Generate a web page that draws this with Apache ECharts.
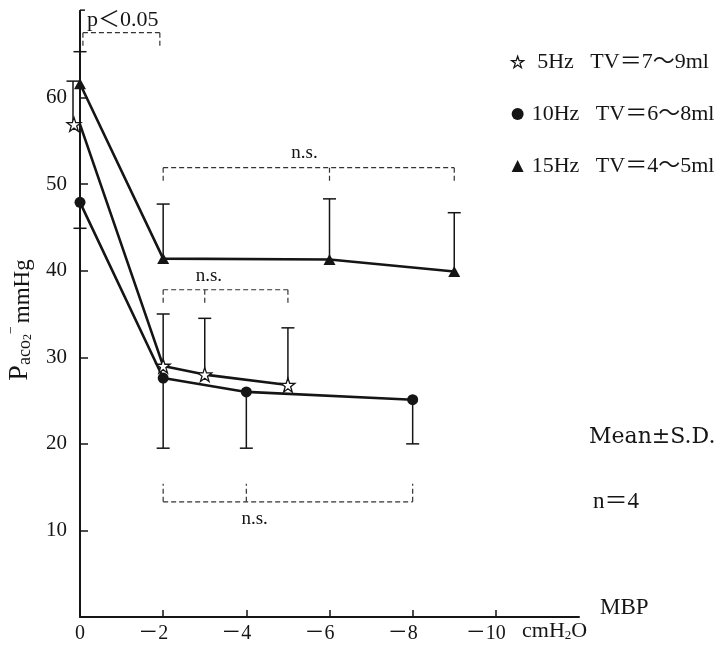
<!DOCTYPE html>
<html><head><meta charset="utf-8">
<script src="https://cdn.jsdelivr.net/npm/echarts@6/dist/echarts.min.js"></script>
<style>html,body{margin:0;padding:0;background:#fff}#c{width:722px;height:645px}</style>
</head><body><div id="c"></div>
<script>
// ---- data ----
const xStar = [0, -2, -3, -5];
const yStar = [56.9, 29.0, 28.0, 26.8];
const sdStar = [5.0, 6.0, 6.5, 6.6];      // drawn upward
const xCircle = [0, -2, -4, -8];
const yCircle = [47.9, 27.6, 26.0, 25.1];
const sdCircle = [3.0, 8.1, 6.5, 5.1];    // drawn downward
const xTri = [0, -2, -6, -9];
const yTri = [61.6, 41.4, 41.3, 39.9];
const sdTri = [3.7, 6.3, 7.0, 6.8];       // drawn upward
const seriesNames = ['\u00a05Hz\u2002 TV＝7～9ml', '10Hz\u2002 TV＝6～8ml', '15Hz\u2002 TV＝4～5ml'];
const yTicks = [10, 20, 30, 40, 50, 60];
const xTicks = [0, -2, -4, -6, -8, -10, -12];
const xTickLabels = ['0', '2', '4', '6', '8', '10'];
const xUnit = ['cmH', '2', 'O'];
// significance brackets (data units)
const brX = [[-0.07, -1.92], [-2, -6, -9], [-2, -3, -5], [-2, -4, -8]];
const brLevel = [67.5, 51.9, 37.8, 13.3];
const brTickEnd = [65.8, 50.1, 36.3, 15.4];
const brText = ['p＜0.05', 'n.s.', 'n.s.', 'n.s.'];
const brTextX = [-0.17, -5.4, -3.1, -4.2];
const brTextY = [68.9, 53.6, 39.4, 11.3];
const pMarkTop = 70.1;
const notes = ['Mean±S.D.', 'n＝4'];

const FONT = "'Liberation Serif','Noto Sans CJK JP',serif";
const FONT2 = "'DejaVu Serif','Noto Sans CJK JP',serif";
const INK = '#151515';
const starPath = 'path://M50,2 L61.8,36 L97.6,36 L68.6,57.6 L79.4,92 L50,71 L20.6,92 L31.4,57.6 L2.4,36 L38.2,36 Z';

function errSeries(xs, ys, sds, dir, dx0) {
  return {
    type: 'custom', silent: true, z: 2, clip: false,
    encode: { x: 0, y: [1, 2] },
    data: xs.map((x, i) => [x, ys[i], ys[i] + dir * sds[i]]),
    renderItem(params, api) {
      const p0 = api.coord([api.value(0), api.value(1)]);
      const p1 = api.coord([api.value(0), api.value(2)]);
      const x = p0[0] + (api.value(0) === 0 ? dx0 : 0);
      const st = { stroke: INK, lineWidth: 1.5 };
      return { type: 'group', children: [
        { type: 'line', shape: { x1: x, y1: p0[1], x2: x, y2: p1[1] }, style: st },
        { type: 'line', shape: { x1: x - 6.5, y1: p1[1], x2: x + 6.5, y2: p1[1] }, style: st }
      ]};
    }
  };
}

const bracketSeries = {
  type: 'custom', silent: true, z: 1, clip: false,
  encode: { x: 0, y: 1 },
  data: brX.map((xs, i) => [xs[0], brLevel[i]]),
  renderItem(params, api) {
    const i = params.dataIndex;
    const ds = { stroke: '#333', lineWidth: 1.2, lineDash: [5, 3] };
    const xs = brX[i].map(v => api.coord([v, 0])[0]);
    const yL = api.coord([0, brLevel[i]])[1];
    const yT = api.coord([0, brTickEnd[i]])[1];
    const ch = [{ type: 'line', shape: { x1: xs[0], y1: yL, x2: xs[xs.length - 1], y2: yL }, style: ds }];
    xs.forEach(x => ch.push({ type: 'line', shape: { x1: x, y1: yL, x2: x, y2: yT }, style: ds }));
    const tp = api.coord([brTextX[i], brTextY[i]]);
    ch.push({ type: 'text', style: { text: brText[i], x: tp[0], y: tp[1], fill: INK,
      fontSize: i === 0 ? 22 : 19, fontFamily: FONT, align: i === 0 ? 'left' : 'center', verticalAlign: 'middle' } });
    if (i === 0) {
      const x0 = api.coord([0, 0])[0];
      const yTop = api.coord([0, pMarkTop])[1];
      const ss = { stroke: INK, lineWidth: 1.5 };
      ch.push({ type: 'line', shape: { x1: x0, y1: yT, x2: x0, y2: yTop }, style: ss });
      ch.push({ type: 'line', shape: { x1: x0, y1: yTop, x2: x0 + 5, y2: yTop }, style: ss });
    }
    return { type: 'group', children: ch };
  }
};

const chart = echarts.init(document.getElementById('c'));
chart.setOption({
  animation: false,
  backgroundColor: '#fff',
  grid: { left: 80, right: 143, top: 11, bottom: 28, containLabel: false, outerBoundsMode: 'none' },
  legend: {
    orient: 'vertical', left: 511, top: 51, padding: 0, itemWidth: 12, itemHeight: 12, itemGap: 30,
    selectedMode: false,
    textStyle: { fontFamily: FONT, fontSize: 22, color: INK, padding: [0, 0, 0, 3] },
    data: [
      { name: seriesNames[0], icon: starPath, itemStyle: { color: '#fff', borderColor: INK, borderWidth: 1.3 } },
      { name: seriesNames[1], icon: 'circle', itemStyle: { color: INK, borderWidth: 0 } },
      { name: seriesNames[2], icon: 'triangle', itemStyle: { color: INK, borderWidth: 0 } }
    ]
  },
  xAxis: {
    type: 'value', min: -12, max: 0, interval: 2, inverse: true,
    axisLine: { onZero: false, lineStyle: { color: INK, width: 2 } },
    axisTick: { inside: true, length: 7, customValues: xTicks, lineStyle: { color: INK, width: 1.5 } },
    splitLine: { show: false },
    axisLabel: {
      margin: 7, color: INK, fontFamily: FONT, fontSize: 20, showMinLabel: false, showMaxLabel: true,
      formatter: v => {
        if (v === 0) return xTickLabels[0];
        if (v <= -12) return '';
        return '{t|－' + xTickLabels[-v / 2] + '}{h|－}';
      },
      rich: {
        t: { fontFamily: FONT, fontSize: 20, color: INK },
        h: { fontFamily: FONT, fontSize: 20, color: 'rgba(0,0,0,0)' }
      }
    },
    name: 'MBP', nameLocation: 'start', nameGap: 21,
    nameTextStyle: { fontFamily: FONT, fontSize: 23, color: INK, verticalAlign: 'bottom', align: 'left', padding: [0, 0, -2, 0] }
  },
  yAxis: {
    type: 'value', min: 0, max: 70, interval: 10,
    axisLine: { show: true, lineStyle: { color: INK, width: 2 } },
    axisTick: { show: true, inside: true, length: 8, customValues: yTicks, lineStyle: { color: INK, width: 1.5 } },
    axisLabel: { customValues: yTicks, margin: 13, color: INK, fontFamily: FONT, fontSize: 21 },
    splitLine: { show: false },
    name: '{P|P}{a|aco}{s|2}{m|−} {u|mmHg}',
    nameLocation: 'middle', nameRotate: 90, nameGap: 46,
    nameTextStyle: {
      color: INK, fontFamily: FONT, padding: [0, 12, 0, 0],
      rich: {
        P: { fontSize: 28, fontFamily: FONT, color: INK, verticalAlign: 'bottom', lineHeight: 30 },
        a: { fontSize: 18, fontFamily: FONT, color: INK, verticalAlign: 'bottom', lineHeight: 23 },
        s: { fontSize: 12, fontFamily: FONT, color: INK, verticalAlign: 'bottom', lineHeight: 12 },
        m: { fontSize: 14, fontFamily: FONT, color: INK, verticalAlign: 'top', lineHeight: 20 },
        u: { fontSize: 23, fontFamily: FONT, color: INK, verticalAlign: 'bottom', lineHeight: 27 }
      }
    }
  },
  graphic: [
    { type: 'text', left: 589, top: 426, style: { text: notes[0], fontFamily: FONT2, fontSize: 22, fill: INK } },
    { type: 'text', left: 593, top: 490, style: { text: notes[1], fontFamily: FONT, fontSize: 23, fill: INK } },
    { type: 'text', left: 522, top: 620, style: {
        text: '{u|' + xUnit[0] + '}{s|' + xUnit[1] + '}{u|' + xUnit[2] + '}',
        rich: {
          u: { fontFamily: FONT, fontSize: 22, fill: INK, color: INK, verticalAlign: 'bottom', lineHeight: 26 },
          s: { fontFamily: FONT, fontSize: 13, fill: INK, color: INK, verticalAlign: 'bottom', lineHeight: 13 }
        } } }
  ],
  series: [
    bracketSeries,
    errSeries(xStar, yStar, sdStar, 1, -7),
    errSeries(xCircle, yCircle, sdCircle, -1, 0),
    errSeries(xTri, yTri, sdTri, 1, 0),
    {
      type: 'line', name: seriesNames[0], z: 4,
      data: xStar.map((x, i) => i === 0 ? { value: [x, yStar[i]], symbolOffset: [-6, 0] } : [x, yStar[i]]),
      symbol: starPath, symbolSize: 14, showAllSymbol: true,
      itemStyle: { color: '#fff', borderColor: INK, borderWidth: 1.3 },
      lineStyle: { color: INK, width: 2.6 }
    },
    {
      type: 'line', name: seriesNames[1], z: 4,
      data: xCircle.map((x, i) => [x, yCircle[i]]),
      symbol: 'circle', symbolSize: 11, showAllSymbol: true,
      itemStyle: { color: INK, borderWidth: 0 },
      lineStyle: { color: INK, width: 2.6 }
    },
    {
      type: 'line', name: seriesNames[2], z: 4,
      data: xTri.map((x, i) => [x, yTri[i]]),
      symbol: 'triangle', symbolSize: [12, 11], showAllSymbol: true,
      itemStyle: { color: INK, borderWidth: 0 },
      lineStyle: { color: INK, width: 2.6 }
    }
  ]
});
</script>
</body></html>
